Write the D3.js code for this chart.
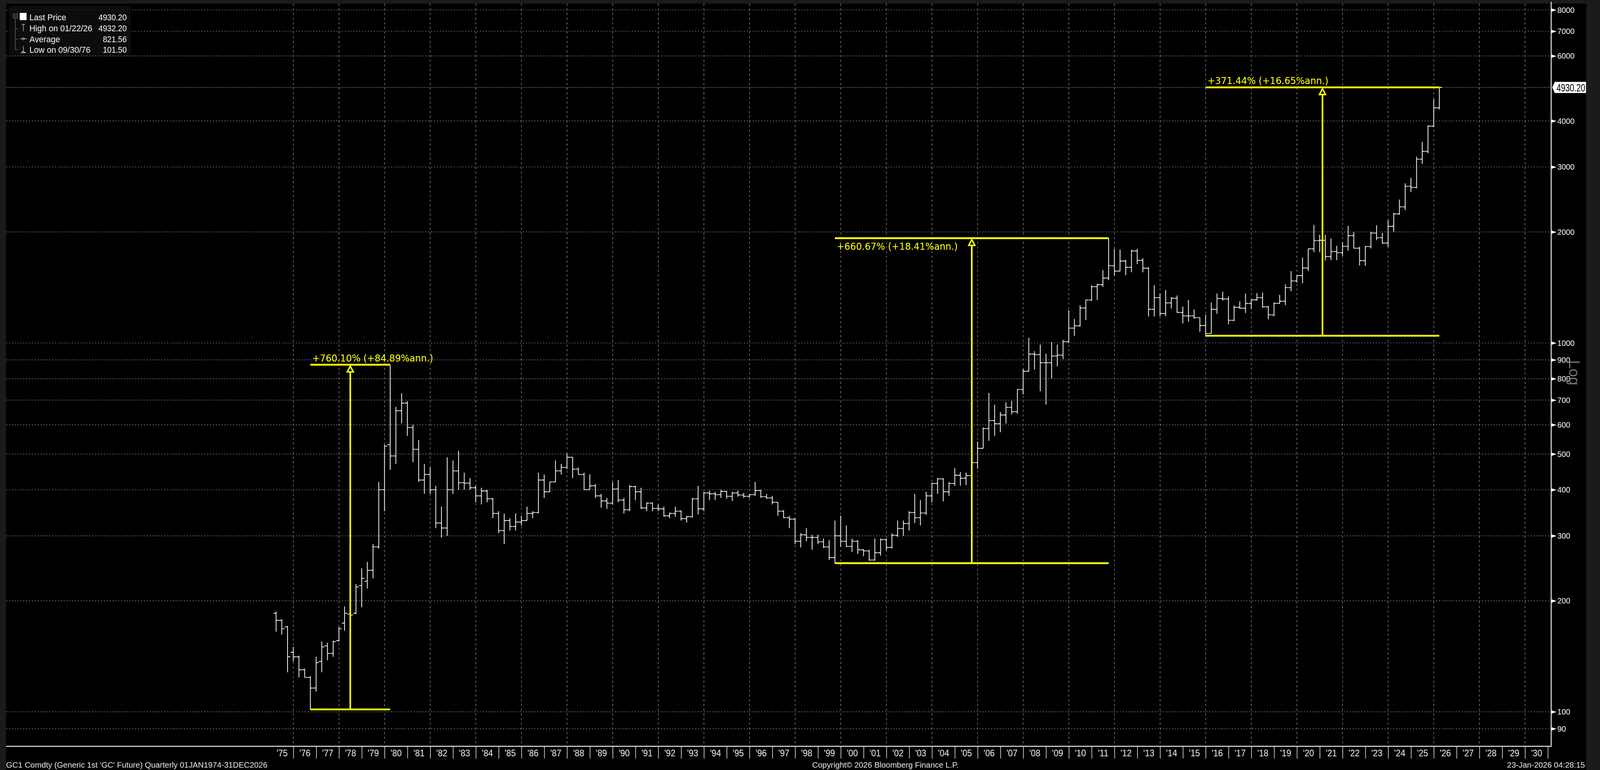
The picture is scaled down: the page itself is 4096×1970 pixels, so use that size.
<!DOCTYPE html>
<html><head><meta charset="utf-8">
<script src="https://cdn.jsdelivr.net/npm/d3@7"></script>
<style>html,body{margin:0;padding:0;background:#1b1b1b;overflow:hidden}</style>
</head><body>
<svg id="c" width="4096" height="1970" viewBox="0 0 4458 2144" preserveAspectRatio="none"></svg>
<script>
// ---------------- DATA ----------------
const firstQuarter = "1975Q1";
// quarterly OHLC, GC1 Comdty, 1975Q1 .. 2026Q1
const open = [
185,177,170,145, 141,130,124,116, 137,151,144,156, 174,184,185,220, 226,242,280,400,
530,494,655,687, 590,515,425,440, 400,325,315,400, 450,418,417,405, 385,397,378,345,
310,330,318,327, 330,345,347,425, 395,420,450,460, 490,455,440,400, 410,385,373,368,
402,375,353,408, 395,357,368,356, 355,340,345,350, 334,338,378,355, 392,390,388,396,
384,392,387,384, 388,398,383,380, 370,350,336,333, 290,302,297,297, 289,280,262,300,
290,281,290,275, 273,258,270,293, 279,301,314,324, 347,336,346,385, 416,428,395,416,
438,430,437,474, 518,586,616,604, 638,669,651,748, 838,933,930,884, 884,922,927,1008,
1097,1113,1244,1308, 1421,1439,1500,1620, 1566,1668,1604,1776, 1675,1595,1234,1327, 1202,1284,1322,1210,
1184,1184,1172,1115, 1061,1234,1320,1316, 1152,1249,1242,1280, 1309,1327,1253,1192, 1281,1298,1413,1473,
1523,1597,1800,1895, 1898,1715,1770,1757, 1828,1954,1807,1672, 1826,1986,1929,1866, 2071,2238,2339,2660,
2641,3150,3307,3873, 4341];
const high = [
187,178,171,150, 142,131,125,141, 155,154,156,170, 193,190,222,245, 255,285,420,530,
873,671,731,696, 600,545,470,460, 410,360,490,480, 510,445,430,410, 405,400,380,350,
345,335,345,340, 360,350,445,440, 420,480,470,502, 490,460,445,440, 415,390,380,420,
425,380,412,410, 405,370,370,365, 360,347,360,352, 340,380,410,395, 398,395,400,397,
395,398,392,390, 420,400,390,385, 370,352,340,335, 305,315,302,302, 295,292,330,340,
320,295,292,276, 275,295,295,295, 305,330,330,350, 390,375,395,418, 430,430,420,458,
447,445,475,540, 590,732,680,650, 690,697,750,850, 1033,950,990,935, 1007,990,1020,1227,
1162,1265,1310,1432, 1446,1577,1923.7,1800, 1792,1680,1790,1800, 1698,1605,1434,1362, 1392,1332,1345,1255,
1308,1232,1172,1192, 1287,1362,1377,1337, 1264,1296,1362,1310, 1366,1369,1260,1287, 1350,1442,1566,1526,
1704,1802,2089,1966, 1963,1919,1834,1877, 2078,1998,1824,1833, 2003,2085,1987,2152, 2254,2448,2709,2802,
3201,3509,3892,4584, 4932.2];
const low = [
165,162,128,137, 124,124,101.5,113.5, 128,138,141,155, 166,170,184,192, 216,230,277,350,
453,470,606,560, 475,420,390,390, 315,297,300,390, 400,400,400,370, 365,370,335,305,
285,310,310,320, 330,335,345,380, 395,420,440,455, 430,440,400,400, 380,358,355,365,
370,345,350,375, 355,350,350,350, 338,335,338,330, 326,336,343,350, 375,375,380,378,
373,383,380,380, 385,380,378,365, 340,335,315,285, 279,290,275,285, 278,258,252.9,280,
280,271,268,264, 257,257,265,274, 277,298,300,310, 325,320,342,370, 390,372,385,410,
410,412,420,456, 518,543,560,573, 605,640,642,725, 837,847,740,681, 802,865,905,1000,
1045,1108,1155,1300, 1308,1420,1480,1523, 1565,1527,1555,1636, 1555,1180,1180,1182, 1182,1240,1208,1130,
1142,1162,1072,1045.4, 1061,1200,1303,1123, 1146,1238,1205,1236, 1302,1246,1160,1182, 1277,1266,1382,1458,
1451,1567,1763,1764, 1673,1677,1677,1721, 1780,1807,1622,1618, 1805,1900,1859,1823, 2001,2228,2293,2565,
2625,3060,3268,3850, 4300];
const close = [
177,168,141,141, 130,124,116,136, 150,144,155,168, 185,183,218,230, 242,280,400,525,
494,655,687,590, 515,425,440,400, 325,315,400,450, 418,417,405,385, 397,378,345,310,
330,318,327,330, 345,347,425,395, 420,450,460,490, 455,440,400,410, 385,373,368,402,
375,353,408,395, 357,368,356,355, 340,345,350,334, 338,378,355,392, 390,388,396,384,
392,387,384,388, 398,383,380,370, 350,336,333,290, 302,297,297,289, 280,262,300,290,
281,290,275,273, 258,270,293,279, 301,314,324,347, 336,346,385,416, 428,395,416,438,
430,437,474,518, 586,616,604,638, 669,651,748,838, 933,930,884,884, 922,927,1008,1097,
1113,1244,1308,1421, 1439,1500,1620,1566, 1668,1604,1776,1675, 1595,1234,1327,1202, 1284,1322,1210,1184,
1184,1172,1115,1061, 1234,1320,1316,1152, 1249,1242,1280,1309, 1327,1253,1192,1281, 1298,1413,1473,1523,
1597,1800,1895,1898, 1715,1770,1757,1828, 1954,1807,1672,1826, 1986,1929,1866,2071, 2238,2339,2660,2641,
3150,3307,3873,4341, 4930.2];

const yTicks = [90,100,200,300,400,500,600,700,800,900,1000,2000,3000,4000,6000,7000,8000];
const xLabels = ["'75","'76","'77","'78","'79","'80","'81","'82","'83","'84","'85","'86","'87","'88","'89",
"'90","'91","'92","'93","'94","'95","'96","'97","'98","'99","'00","'01","'02","'03","'04","'05","'06","'07",
"'08","'09","'10","'11","'12","'13","'14","'15","'16","'17","'18","'19","'20","'21","'22","'23","'24","'25",
"'26","'27","'28","'29","'30"];
const xLabelYears = d3.range(1975, 2031);

const lastPrice = 4930.20;
const legendLabels = ["Last Price","High on 01/22/26","Average","Low on 09/30/76"];
const legendValues = ["4930.20","4932.20","821.56","101.50"];

const annStart = ["1976Q3","1999Q3","2015Q4"];
const annEnd   = ["1980Q1","2011Q3","2026Q1"];
const annLow   = [101.50, 252.90, 1046.20];
const annHigh  = [873.00, 1923.70, 4932.20];
const annText  = ["+760.10% (+84.89%ann.)","+660.67% (+18.41%ann.)","+371.44% (+16.65%ann.)"];

const footerLeft = "GC1 Comdty (Generic 1st 'GC' Future) Quarterly 01JAN1974-31DEC2026";
const footerMid = "Copyright\u00A9 2026 Bloomberg Finance L.P.";
const footerRight = "23-Jan-2026 04:28:15";

// ---------------- LAYOUT ----------------
const PL = 17, PT = 10, PR = 4322, PB = 2078;
const FONT = "'Liberation Sans', Arial, sans-serif";
const FONT2 = "'DejaVu Sans', Verdana, sans-serif";
const YEL = "#ffff00";
const annTextBelow = [false, true, false];

function qDate(q){ const yr=+q.slice(0,4), qq=+q.slice(5); return new Date(yr, qq*3, 0); }
const q0y = +firstQuarter.slice(0,4);
const bars = open.map((o,i)=>({date:new Date(q0y+Math.floor(i/4), (i%4)*3+3, 0), o, h:high[i], l:low[i], c:close[i]}));

const svg = d3.select("#c");
const x = d3.scaleTime().domain([new Date(1976,0,1), new Date(2031,0,1)]).range([817.3, 4312.6]);
const y = d3.scaleLog().domain([100, 1000]).range([1982, 955]);

function condense(sel, f){ sel.each(function(){ const L=this.getComputedTextLength(); this.setAttribute("textLength", L*f); this.setAttribute("lengthAdjust","spacingAndGlyphs"); }); }

// panel
svg.append("rect").attr("x",0).attr("y",0).attr("width",4458).attr("height",2144).attr("fill","#1b1b1b");
svg.append("rect").attr("x",PL).attr("y",PT).attr("width",4420-PL).attr("height",2144-PT).attr("fill","#000");

// grid: horizontal
const grid = svg.append("g");
grid.selectAll("line.h").data(yTicks).join("line")
  .attr("x1",PL).attr("x2",PR).attr("y1",d=>y(d)).attr("y2",d=>y(d))
  .attr("stroke","#808080").attr("stroke-width",1.8).attr("stroke-dasharray","3,5");
grid.append("line").attr("x1",PL).attr("x2",PR).attr("y1",y(lastPrice)).attr("y2",y(lastPrice))
  .attr("stroke","#9a9a9a").attr("stroke-width",1.8).attr("stroke-dasharray","2,3");
// grid: vertical every two years
const gridYears = d3.range(1976, 2031, 2).map(yr=>new Date(yr,0,1));
grid.selectAll("line.v").data(gridYears).join("line")
  .attr("x1",d=>x(d)).attr("x2",d=>x(d)).attr("y1",PT).attr("y2",PB)
  .attr("stroke","#7a7a7a").attr("stroke-width",1.8).attr("stroke-dasharray","6,7");

// legend
const lg = svg.append("g");
lg.append("rect").attr("x",25).attr("y",17).attr("width",340).attr("height",137).attr("rx",7)
  .attr("fill","#101010").attr("fill-opacity",0.75);
lg.append("rect").attr("x",37).attr("y",39).attr("width",11).attr("height",11).attr("fill","none").attr("stroke","#777").attr("stroke-width",1.5);
lg.append("line").attr("x1",39.5).attr("x2",45.5).attr("y1",44.5).attr("y2",44.5).attr("stroke","#888").attr("stroke-width",1.5);
lg.append("path").attr("d","M42.5,50V138 M42.5,80H50 M42.5,109H50 M42.5,138H50").attr("stroke","#666").attr("stroke-width",1.5).attr("fill","none");
lg.append("rect").attr("x",55).attr("y",36).attr("width",19).attr("height",20).attr("fill","#fff");
lg.append("path").attr("d","M60,68H70 M65,68V87").attr("stroke","#9a9a9a").attr("stroke-width",2).attr("fill","none");
lg.append("path").attr("d","M55,108H75").attr("stroke","#9a9a9a").attr("stroke-width",2);
lg.append("circle").attr("cx",65).attr("cy",108).attr("r",3).attr("fill","none").attr("stroke","#9a9a9a").attr("stroke-width",1.5);
lg.append("path").attr("d","M65,128V145 M59,147H71 L65,142Z").attr("stroke","#9a9a9a").attr("stroke-width",2).attr("fill","#9a9a9a");
const lt = lg.selectAll("text.l").data(legendLabels).join("text")
  .attr("x",82).attr("y",(d,i)=>57+i*30).attr("fill","#f0f0f0").attr("font-family",FONT).attr("font-size",25).text(d=>d);
condense(lt,0.92);
const lv = lg.selectAll("text.v").data(legendValues).join("text")
  .attr("x",353).attr("y",(d,i)=>57+i*30).attr("text-anchor","end").attr("fill","#f0f0f0").attr("font-family",FONT).attr("font-size",25).text(d=>d);
condense(lv,0.87);

// OHLC bars
const TK = 7.5;
svg.append("g").selectAll("path").data(bars).join("path")
  .attr("d", d=>{ const cx=x(d.date); return `M${cx},${y(d.h)}V${y(d.l)}M${cx-TK},${y(d.o)}H${cx}M${cx},${y(d.c)}H${cx+TK}`; })
  .attr("stroke","#e8e8e8").attr("stroke-width",2.3).attr("fill","none");

// annotations
const ag = svg.append("g");
annStart.forEach((s,i)=>{
  const d0=qDate(s), d1=qDate(annEnd[i]);
  const x0=x(d0), x1=x(d1), xm=x(new Date((d0.getTime()+d1.getTime())/2));
  const yl=y(annLow[i]), yh=y(annHigh[i]);
  ag.append("line").attr("x1",x0).attr("x2",x1).attr("y1",yh).attr("y2",yh).attr("stroke",YEL).attr("stroke-width",5);
  ag.append("line").attr("x1",x0).attr("x2",x1).attr("y1",yl).attr("y2",yl).attr("stroke",YEL).attr("stroke-width",5);
  ag.append("line").attr("x1",xm).attr("x2",xm).attr("y1",yl).attr("y2",yh+20).attr("stroke",YEL).attr("stroke-width",4.5);
  ag.append("path").attr("d",`M${xm},${yh+4}L${xm-8.5},${yh+20}H${xm+8.5}Z`).attr("fill","#000").attr("stroke",YEL).attr("stroke-width",4).attr("stroke-linejoin","miter");
  const t = ag.append("text").attr("x",x0+5).attr("y", annTextBelow[i]? yh+32 : yh-9)
    .attr("fill",YEL).attr("font-family",FONT2).attr("font-size",26).text(annText[i]);
  condense(t,0.98);
});

// axes lines
svg.append("line").attr("x1",PL).attr("x2",PR+1).attr("y1",PB).attr("y2",PB).attr("stroke","#d8d8d8").attr("stroke-width",3);
svg.append("line").attr("x1",PR).attr("x2",PR).attr("y1",PT-5).attr("y2",PB).attr("stroke","#d8d8d8").attr("stroke-width",3);

// x axis: separators
const sepAxis = d3.axisBottom(x).tickValues(d3.range(1976, 2032).map(yr=>new Date(yr,0,1))).tickSize(34).tickFormat("");
const sa = svg.append("g").attr("transform",`translate(0,${PB})`).call(sepAxis);
sa.select(".domain").remove();
sa.selectAll("line").attr("stroke","#c8c8c8").attr("stroke-width",2);
// x axis: labels centered in each year
const labAxis = d3.axisBottom(x).tickValues(xLabelYears.map(yr=>new Date(yr,6,2))).tickSize(0).tickPadding(9).tickFormat((d,i)=>xLabels[i]);
const la = svg.append("g").attr("transform",`translate(0,${PB})`).call(labAxis);
la.select(".domain").remove();
la.selectAll("text").attr("fill","#e8e8e8").attr("font-family",FONT).attr("font-size",26);
condense(la.selectAll("text"),0.91);

// y axis
const yAxis = d3.axisRight(y).tickValues(yTicks).tickFormat(d3.format("d")).tickSize(0).tickPadding(17);
const ya = svg.append("g").attr("transform",`translate(${PR},0)`).call(yAxis);
ya.select(".domain").remove();
ya.selectAll("text").attr("fill","#f2f2f2").attr("font-family",FONT).attr("font-size",23);
condense(ya.selectAll("text"),0.94);
ya.selectAll(".tick").append("path").attr("d","M1,-4.5L15,0L1,4.5Z").attr("fill","#fff");

// last price label
const ly = y(lastPrice);
svg.append("path").attr("d",`M${PR+3},${ly}L${PR+10},${ly-15.5}H4419V${ly+15.5}H${PR+10}Z`).attr("fill","#fff");
const lpt = svg.append("text").attr("x",4337).attr("y",ly+11).attr("fill","#000").attr("font-family",FONT).attr("font-size",31).text(d3.format(".2f")(lastPrice));
condense(lpt,0.71);

// Log label
svg.append("text").attr("transform","translate(4372,1003) rotate(90)").attr("fill","#707070")
  .attr("font-family",FONT).attr("font-size",42).text("Log");

// footer
const fl = svg.append("text").attr("x",17).attr("y",2137).attr("fill","#e0e0e0").attr("font-family",FONT).attr("font-size",22).text(footerLeft);
const f = 728/fl.node().getComputedTextLength();
condense(fl,f);
const fm = svg.append("text").attr("x",2467).attr("y",2137).attr("text-anchor","middle").attr("fill","#e0e0e0").attr("font-family",FONT).attr("font-size",22).text(footerMid);
condense(fm,f);
const fr = svg.append("text").attr("x",4416).attr("y",2137).attr("text-anchor","end").attr("fill","#e0e0e0").attr("font-family",FONT).attr("font-size",22).text(footerRight);
condense(fr,f);
</script>
</body></html>
